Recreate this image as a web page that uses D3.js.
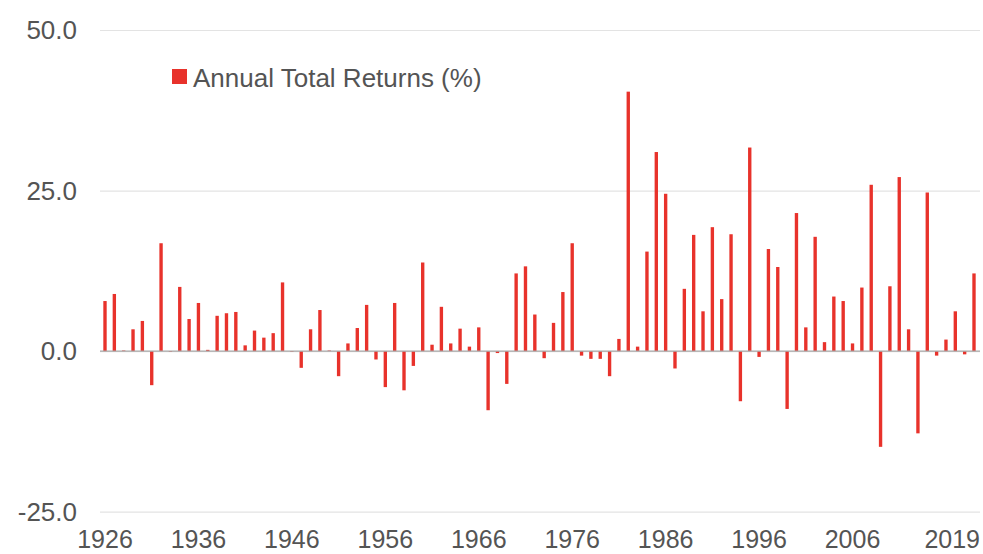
<html><head>
<meta charset="utf-8">
<script src="https://d3js.org/d3.v7.min.js"></script>
<style>
  body { margin: 0; background: #fff; }
  text { font-family: "Liberation Sans", Arial, sans-serif; fill: #545454; }
</style>
</head>
<body>
<svg id="chart" width="983" height="554"></svg>
<script>
// years 1926..2019
const years = d3.range(1926, 2020);
const returns = [
  7.8, 8.9, 0.1, 3.4, 4.7, -5.3, 16.8, -0.1, 10.0, 5.0,
  7.5, 0.2, 5.5, 5.9, 6.1, 0.9, 3.2, 2.1, 2.8, 10.7,
  -0.1, -2.6, 3.4, 6.4, 0.1, -3.9, 1.2, 3.6, 7.2, -1.3,
  -5.6, 7.5, -6.1, -2.3, 13.8, 1.0, 6.9, 1.2, 3.5, 0.7,
  3.7, -9.2, -0.3, -5.1, 12.1, 13.2, 5.7, -1.1, 4.4, 9.2,
  16.8, -0.7, -1.2, -1.2, -3.9, 1.9, 40.4, 0.7, 15.5, 31.0,
  24.5, -2.7, 9.7, 18.1, 6.2, 19.3, 8.1, 18.2, -7.8, 31.7,
  -0.9, 15.9, 13.1, -9.0, 21.5, 3.7, 17.8, 1.4, 8.5, 7.8,
  1.2, 9.9, 25.9, -14.9, 10.1, 27.1, 3.4, -12.8, 24.7, -0.7,
  1.8, 6.2, -0.5, 12.1
];
const yTicks = [-25, 0, 25, 50];
const xLabels = [1926, 1936, 1946, 1956, 1966, 1976, 1986, 1996, 2006, 2019];
const seriesName = "Annual Total Returns (%)";

const data = years.map((y, i) => ({year: y, value: returns[i]}));

let svg = d3.select("svg#chart");

const plotLeft = 100, plotRight = 980;

const x = d3.scalePoint().domain(years).range([105, 974]);
const y = d3.scaleLinear().domain([-25, 50]).range([511.7, 30]);
const barW = x.step() * 0.36;

// gridlines
let grid = d3.axisLeft(y).tickValues(yTicks).tickFormat("").tickSize(-(plotRight - plotLeft));
svg.append("g")
   .attr("class", "gridlines")
   .attr("transform", "translate(" + plotLeft + ",0)")
   .call(grid)
   .call(g => g.select(".domain").remove())
   .call(g => g.selectAll("line").attr("stroke", "#e3e3e3").attr("stroke-width", 1.2));

// y labels (plain hyphen like the original)
svg.append("g")
   .selectAll("text")
   .data(yTicks)
   .join("text")
   .attr("x", 77)
   .attr("y", d => y(d))
   .attr("dy", "0.35em")
   .attr("text-anchor", "end")
   .style("font-size", "26px")
   .text(d => d3.format(".1f")(d).replace("\u2212", "-"));

// bars
svg.append("g")
   .selectAll("rect")
   .data(data)
   .join("rect")
   .attr("x", d => x(d.year) - barW / 2)
   .attr("width", barW)
   .attr("y", d => y(Math.max(0, d.value)))
   .attr("height", d => Math.abs(y(d.value) - y(0)))
   .attr("fill", "#e8322b");

// zero line
svg.append("line")
   .attr("x1", plotLeft).attr("x2", plotRight)
   .attr("y1", y(0)).attr("y2", y(0))
   .attr("stroke", "#a8a8a8").attr("stroke-width", 1.2);

// x labels
svg.append("g")
   .selectAll("text")
   .data(xLabels)
   .join("text")
   .attr("x", d => d == 2019 ? plotRight : x(d))
   .attr("y", 548)
   .attr("text-anchor", d => d == 2019 ? "end" : "middle")
   .style("font-size", "25px")
   .text(d => d);

// legend
let legend = svg.append("g").attr("transform", "translate(172,69)");
legend.append("rect").attr("width", 15).attr("height", 15).attr("fill", "#e8322b");
legend.append("text")
   .attr("x", 21).attr("y", 18)
   .style("font-size", "26px")
   .text(seriesName);
</script>
</body>
</html>
